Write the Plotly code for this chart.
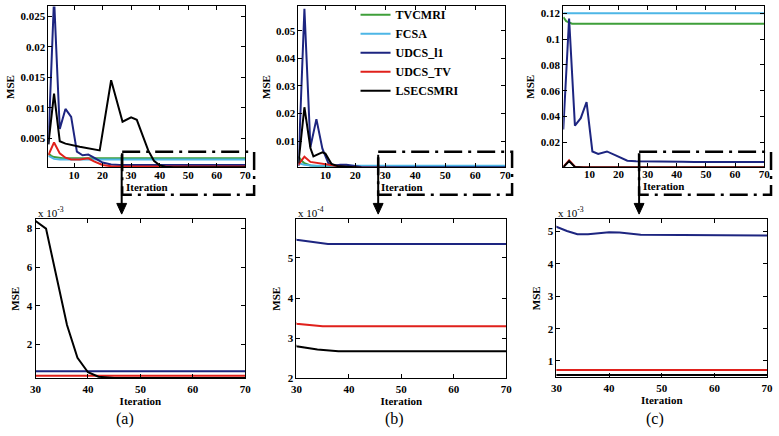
import plotly.graph_objects as go

W, H = 779, 436

# ---------------- data ----------------
series_names = ["TVCMRI", "FCSA", "UDCS_l1", "UDCS_TV", "LSECSMRI"]
series_colors = ["#3f9f3a", "#4db6e6", "#1d2580", "#e0201b", "#000000"]

# Panel (a)
a_tv_x = [1, 2, 3, 4, 6, 70]
a_tv_y = [0.0025, 0.0021, 0.0019, 0.0018, 0.0017, 0.0017]
a_fc_x = [1, 2, 3, 5, 8, 70]
a_fc_y = [0.0021, 0.0018, 0.0016, 0.0015, 0.0015, 0.0015]
a_l1_x = [1, 3, 5, 7, 9, 11, 13, 15, 17, 20, 23, 26, 70]
a_l1_y = [0.004, 0.028, 0.0065, 0.0098, 0.0085, 0.0028, 0.0022, 0.0023, 0.0018, 0.001, 0.0007, 0.0006, 0.0006]
a_tvu_x = [1, 3, 5, 7, 9, 12, 15, 17, 20, 23, 26, 70]
a_tvu_y = [0.0022, 0.0043, 0.0025, 0.0018, 0.0015, 0.0015, 0.0017, 0.0012, 0.0006, 0.0004, 0.00037, 0.00037]
a_ls_x = [1, 3, 5, 7, 12, 19, 23, 27, 30, 32, 34, 36, 38, 40, 42, 45, 70]
a_ls_y = [0.004, 0.0123, 0.0045, 0.0041, 0.0036, 0.003, 0.0145, 0.0077, 0.0084, 0.0080, 0.0055, 0.0030, 0.0013,
          0.00055, 0.00032, 0.00025, 0.00025]

# Panel (b)
b_tv_x = [1, 2, 3, 5, 7, 70]
b_tv_y = [0.0045, 0.003, 0.002, 0.0012, 0.001, 0.001]
b_fc_x = [1, 3, 6, 70]
b_fc_y = [0.002, 0.0015, 0.0011, 0.0011]
b_l1_x = [1, 3, 5, 7, 9, 11, 13, 15, 17, 19, 22, 26, 30, 36, 70]
b_l1_y = [0.001, 0.058, 0.0079, 0.018, 0.0073, 0.002, 0.0012, 0.0015, 0.0015, 0.0011, 0.0007, 0.00058,
          0.000545, 0.000535, 0.000535]
b_tvu_x = [1, 3, 5, 8, 12, 15, 20, 30, 35, 70]
b_tvu_y = [0.0015, 0.0044, 0.0025, 0.002, 0.0012, 0.0008, 0.0005, 0.000336, 0.00033, 0.00033]
b_ls_x = [1, 3, 5, 6, 8, 9, 10, 11, 12, 14, 17, 22, 30, 34, 38, 70]
b_ls_y = [0.002, 0.0223, 0.0075, 0.0045, 0.0055, 0.006, 0.0055, 0.0035, 0.0018, 0.001, 0.0008, 0.0004,
          0.00028, 0.000272, 0.000268, 0.000268]

# Panel (c)
c_tv_x = [1, 2, 4, 70]
c_tv_y = [0.117, 0.114, 0.112, 0.112]
c_fc_x = [1, 70]
c_fc_y = [0.12, 0.12]
c_l1_x = [1, 3, 5, 7, 9, 11, 13, 16, 19, 23, 26, 30, 32, 34, 36, 40, 42, 46, 55, 70]
c_l1_y = [0.03, 0.116, 0.033, 0.0388, 0.0513, 0.013, 0.011, 0.013, 0.01, 0.0058, 0.0054, 0.00515, 0.00502,
          0.00492, 0.00492, 0.00498, 0.00497, 0.0049, 0.0049, 0.00488]
c_tvu_x = [1, 3, 5, 7, 30, 70]
c_tvu_y = [0.001, 0.0062, 0.0012, 0.0008, 0.00072, 0.00072]
c_ls_x = [1, 3, 5, 8, 30, 70]
c_ls_y = [0.0008, 0.0055, 0.001, 0.0006, 0.00057, 0.00057]

top_xticks = [10, 20, 30, 40, 50, 60, 70]
bot_xticks = [30, 40, 50, 60, 70]
a_top_yticks = [0.005, 0.01, 0.015, 0.02, 0.025]
a_top_ylabels = ["0.005", "0.01", "0.015", "0.02", "0.025"]
b_top_yticks = [0.01, 0.02, 0.03, 0.04, 0.05]
b_top_ylabels = ["0.01", "0.02", "0.03", "0.04", "0.05"]
c_top_yticks = [0.02, 0.04, 0.06, 0.08, 0.1, 0.12]
c_top_ylabels = ["0.02", "0.04", "0.06", "0.08", "0.1", "0.12"]
a_bot_yticks = [0.002, 0.004, 0.006, 0.008]
a_bot_ylabels = ["2", "4", "6", "8"]
b_bot_yticks = [0.0002, 0.0003, 0.0004, 0.0005]
b_bot_ylabels = ["2", "3", "4", "5"]
c_bot_yticks = [0.001, 0.002, 0.003, 0.004, 0.005]
c_bot_ylabels = ["1", "2", "3", "4", "5"]
panel_labels = ["(a)", "(b)", "(c)"]
scale_labels = ["x 10<sup>-3</sup>", "x 10<sup>-4</sup>", "x 10<sup>-3</sup>"]

panels = [
    [(a_tv_x, a_tv_y), (a_fc_x, a_fc_y), (a_l1_x, a_l1_y), (a_tvu_x, a_tvu_y), (a_ls_x, a_ls_y)],
    [(b_tv_x, b_tv_y), (b_fc_x, b_fc_y), (b_l1_x, b_l1_y), (b_tvu_x, b_tvu_y), (b_ls_x, b_ls_y)],
    [(c_tv_x, c_tv_y), (c_fc_x, c_fc_y), (c_l1_x, c_l1_y), (c_tvu_x, c_tvu_y), (c_ls_x, c_ls_y)],
]

# ---------------- layout helpers ----------------
def dx(a, b):
    return [a / W, b / W]

def dy(top, bot):
    return [1 - bot / H, 1 - top / H]

def px(x):
    return x / W

def py(y):
    return 1 - y / H

SERIF = "Liberation Serif"
tickfont = dict(family=SERIF, size=11, color="black", weight="bold")
titlefont = dict(family=SERIF, size=11, color="black", weight="bold")

fig = go.Figure()

for p, data in enumerate(panels):
    for s, (xs, ys) in enumerate(data):
        fig.add_trace(go.Scatter(
            x=xs, y=ys, mode="lines", name=series_names[s],
            line=dict(color=series_colors[s], width=2),
            xaxis=f"x{p + 1}", yaxis=f"y{p + 1}",
            showlegend=(p == 1), legendrank=s,
        ))
    for s in [2, 3, 4]:
        xs, ys = data[s]
        fig.add_trace(go.Scatter(
            x=xs, y=ys, mode="lines", name=series_names[s],
            line=dict(color=series_colors[s], width=2),
            xaxis=f"x{p + 4}", yaxis=f"y{p + 4}", showlegend=False,
        ))

common = dict(showline=True, linecolor="black", linewidth=1, mirror="ticks", ticks="inside",
              ticklen=4, tickcolor="black", showgrid=False, zeroline=False, tickfont=tickfont)

top_dom_x = [dx(43, 243), dx(297, 507), dx(566, 770)]
top_dom_y = [dy(0.5, 166), dy(0.5, 166), dy(0.5, 165.5)]
bot_dom_x = [dx(30, 243), dx(295, 508), dx(559, 773)]
bot_dom_y = [dy(219, 383), dy(219, 383), dy(219, 382)]

top_yinfo = [([0.0002, 0.0266], a_top_yticks, a_top_ylabels),
             ([0.0005, 0.0588], b_top_yticks, b_top_ylabels),
             ([0.001, 0.1253], c_top_yticks, c_top_ylabels)]
bot_yinfo = [([0.00023, 0.0085], a_bot_yticks, a_bot_ylabels),
             ([0.0002, 0.000597], b_bot_yticks, b_bot_ylabels),
             ([0.00049, 0.00539], c_bot_yticks, c_bot_ylabels)]

lay = {}
for p in range(3):
    n = p + 1
    lay[f"xaxis{n}"] = dict(common, domain=top_dom_x[p], anchor=f"y{n}", range=[1, 70],
                            tickvals=top_xticks, ticklabelstandoff=-3,
                            title=dict(text="Iteration", font=titlefont, standoff=2))
    rng, tv, tt = top_yinfo[p]
    lay[f"yaxis{n}"] = dict(common, domain=top_dom_y[p], anchor=f"x{n}", range=rng, tickvals=tv,
                            ticktext=tt, title=dict(text="MSE", font=titlefont, standoff=3))
    m = p + 4
    lay[f"xaxis{m}"] = dict(common, domain=bot_dom_x[p], anchor=f"y{m}", range=[30, 70],
                            tickvals=bot_xticks, ticklabelstandoff=0,
                            title=dict(text="Iteration", font=titlefont, standoff=3))
    rng, tv, tt = bot_yinfo[p]
    lay[f"yaxis{m}"] = dict(common, domain=bot_dom_y[p], anchor=f"x{m}", range=rng, tickvals=tv,
                            ticktext=tt, title=dict(text="MSE", font=titlefont, standoff=4))

# zoom indicator rectangles + arrows
shapes = []
rects = [(118, 150, 252, 194), (378, 150, 514, 194), (643, 150, 777, 194)]
arrow_x = [117.5, 378, 643]
for (x0, y0, x1, y1), ax in zip(rects, arrow_x):
    shapes.append(dict(type="rect", xref="paper", yref="paper", x0=px(x0), x1=px(x1), y0=py(y0), y1=py(y1),
                       line=dict(color="black", width=2.5, dash="18px,6px,3px,6px"), layer="above"))
    shapes.append(dict(type="line", xref="paper", yref="paper", x0=px(ax), x1=px(ax), y0=py(153), y1=py(205),
                       line=dict(color="black", width=2)))
    shapes.append(dict(type="path", xref="paper", yref="paper",
                       path=f"M{px(ax - 5)},{py(203)} L{px(ax + 5)},{py(203)} L{px(ax)},{py(214)} Z",
                       fillcolor="black", line=dict(color="black", width=1)))

annotations = []
scale_x = [30, 295, 559]
label_x = [121, 395, 659]
for p in range(3):
    annotations.append(dict(xref="paper", yref="paper", x=px(scale_x[p]), y=py(212), xanchor="left",
                            yanchor="middle", text=scale_labels[p], showarrow=False,
                            font=dict(family=SERIF, size=11, color="black")))
    annotations.append(dict(xref="paper", yref="paper", x=px(label_x[p]), y=py(425), xanchor="center",
                            yanchor="middle", text=panel_labels[p], showarrow=False,
                            font=dict(family=SERIF, size=16, color="black")))

fig.update_layout(
    width=W, height=H, margin=dict(l=0, r=0, t=0, b=0),
    paper_bgcolor="white", plot_bgcolor="white",
    shapes=shapes, annotations=annotations,
    legend=dict(x=px(355), y=py(-6), xanchor="left", yanchor="top", bgcolor="rgba(0,0,0,0)",
                font=dict(family=SERIF, size=12, color="black", weight="bold"), tracegroupgap=0,
                itemwidth=30),
    **lay,
)

fig.write_html("out.html", config={"displayModeBar": False},
               post_script="document.body.style.margin='0px';")
